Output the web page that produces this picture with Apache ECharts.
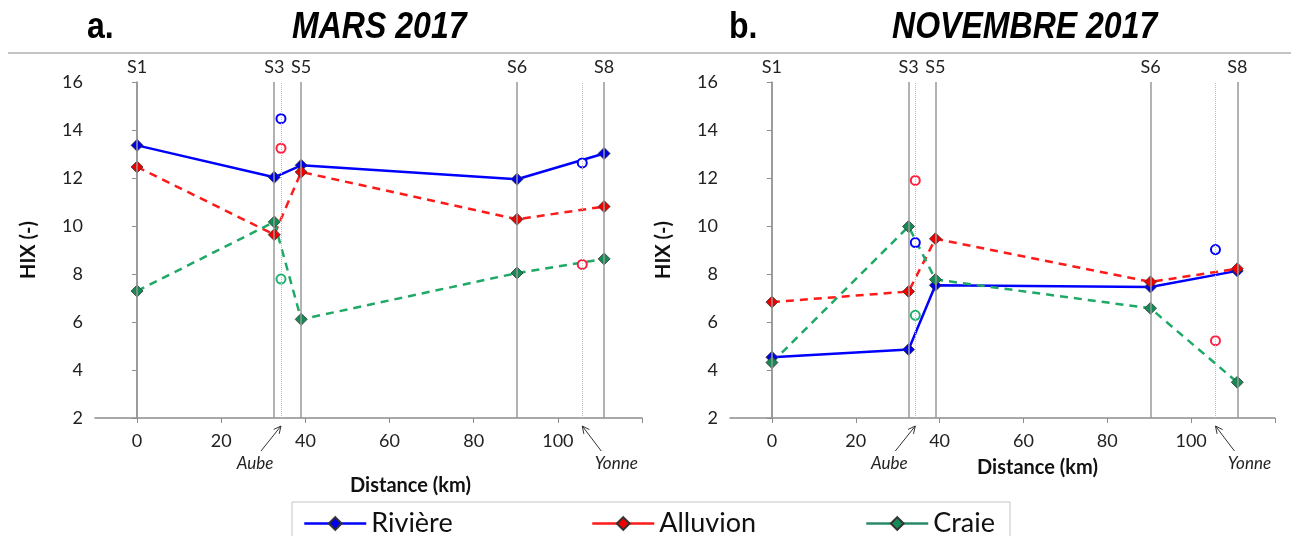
<!DOCTYPE html>
<html>
<head>
<meta charset="utf-8">
<script src="https://cdn.jsdelivr.net/npm/echarts@6/dist/echarts.min.js"></script>
<style>
  html, body { margin: 0; padding: 0; background: #fff; }
  #main { width: 1291px; height: 536px; }
</style>
</head>
<body>
<div id="main"></div>
<script>
// stations along the river (km) and tributary confluences
var stationNames = ['S1', 'S3', 'S5', 'S6', 'S8'];
var stationKm = [0, 32.6, 39, 90.3, 111];
var tribNames = ['Aube', 'Yonne'];
var tribKm = [34.2, 105.8];
var xLabels = [0, 20, 40, 60, 80, 100];

// HIX, March 2017
var marsRiviere = [13.36, 12.03, 12.53, 11.95, 13.02];
var marsAlluvion = [12.46, 9.64, 12.25, 10.28, 10.81];
var marsCraie = [7.29, 10.17, 6.11, 8.04, 8.63];
var marsTribRiviere = [14.47, 12.63];
var marsTribAlluvion = [13.24, 8.4];
var marsTribCraie = [7.79, null];

// HIX, November 2017
var novRiviere = [4.53, 4.85, 7.53, 7.46, 8.13];
var novAlluvion = [6.83, 7.27, 9.47, 7.67, 8.22];
var novCraie = [4.31, 9.98, 7.77, 6.57, 3.49];
var novTribRiviere = [9.31, 9.02];
var novTribAlluvion = [11.9, 5.22];
var novTribCraie = [6.28, null];

var FONT = 'Lato';
var BLUE = '#0000ff', RED = '#ff1a1a', GREEN = '#1fa866';

function pairs(xs, ys) {
    var out = [];
    for (var i = 0; i < xs.length; i++) {
        if (ys[i] != null) out.push([xs[i], ys[i]]);
    }
    return out;
}

var dom = document.getElementById('main');
var myChart = echarts.init(dom);

function xAxisFor(gi, gap, shift) {
    return {
        type: 'value', gridIndex: gi, min: -10, max: 120, interval: 10,
        name: 'Distance (km)', nameLocation: 'middle', nameGap: gap,
        nameTextStyle: {fontFamily: FONT, fontWeight: 'bold', fontSize: 20, color: '#111', padding: [0, 0, 0, shift]},
        axisLine: {lineStyle: {color: '#8c8c8c', width: 1.5}},
        axisTick: {show: true, length: 5, customValues: [0, 20, 40, 60, 80, 100, 120], lineStyle: {color: '#8c8c8c'}},
        axisLabel: {
            customValues: xLabels, fontFamily: FONT, fontSize: 18, color: '#222', margin: 14,
            formatter: function (v) { return xLabels.indexOf(v) >= 0 ? String(v) : ''; }
        },
        splitLine: {show: false}
    };
}

function yAxisFor(gi) {
    return {
        type: 'value', gridIndex: gi, min: 2, max: 16, interval: 2,
        name: 'HIX (-)', nameLocation: 'middle', nameGap: 56,
        nameTextStyle: {fontFamily: FONT, fontWeight: 'bold', fontSize: 20, color: '#111'},
        axisLine: {show: true, lineStyle: {color: '#8c8c8c', width: 1.5}},
        axisTick: {show: true, length: 5, lineStyle: {color: '#8c8c8c'}},
        axisLabel: {fontFamily: FONT, fontSize: 18, color: '#222', margin: 12},
        splitLine: {show: false}
    };
}

function guideSeries(gi) {
    var lines = [];
    stationKm.forEach(function (km, i) {
        lines.push({
            xAxis: km,
            lineStyle: {color: '#999', width: 1.5, type: 'solid'},
            label: {show: true, position: 'end', formatter: stationNames[i], distance: 6,
                    fontFamily: FONT, fontSize: 18, color: '#222'}
        });
    });
    tribKm.forEach(function (km) {
        lines.push({xAxis: km, lineStyle: {color: '#bdbdbd', width: 1, type: 'dotted'}, label: {show: false}});
    });
    return {
        type: 'scatter', xAxisIndex: gi, yAxisIndex: gi, data: [], z: 1, silent: true,
        markLine: {symbol: ['none', 'none'], silent: true, animation: false, data: lines}
    };
}

function lineSeries(gi, name, ys, color, marker, dashed) {
    return {
        name: name, type: 'line', xAxisIndex: gi, yAxisIndex: gi, z: 3,
        data: pairs(stationKm, ys),
        symbol: 'diamond', symbolSize: 12,
        lineStyle: {color: color, width: 2.5, type: dashed ? [8, 6] : 'solid'},
        itemStyle: {color: marker, borderColor: '#333', borderWidth: 0.8}
    };
}

function tribSeries(gi, name, ys, color) {
    return {
        name: name, type: 'scatter', xAxisIndex: gi, yAxisIndex: gi, z: 4,
        data: pairs(tribKm, ys),
        symbol: 'emptyCircle', symbolSize: 9,
        itemStyle: {color: color, borderColor: color, borderWidth: 2.5, opacity: 1}
    };
}

function legendFor(name, left, lineColor) {
    return {
        data: [name], left: left, top: 505, itemWidth: 62, itemHeight: 16, itemGap: 0,
        lineStyle: {type: 'solid', width: 2.5, color: lineColor},
        textStyle: {fontFamily: FONT, fontSize: 27, color: '#111'}, selectedMode: false
    };
}

option = {
    backgroundColor: '#fff',
    animation: false,
    legend: [legendFor('Rivière', 298, BLUE), legendFor('Alluvion', 586, RED), legendFor('Craie', 860, '#2a8a68')],
    grid: [
        {left: 95, right: 649, top: 82, bottom: 118},
        {left: 730, right: 16, top: 82, bottom: 118}
    ],
    xAxis: [xAxisFor(0, 58, 84), xAxisFor(1, 40, 70)],
    yAxis: [yAxisFor(0), yAxisFor(1)],
    series: [
        guideSeries(0),
        lineSeries(0, 'Rivière', marsRiviere, BLUE, '#0000e6', false),
        lineSeries(0, 'Alluvion', marsAlluvion, RED, '#ee0000', true),
        lineSeries(0, 'Craie', marsCraie, GREEN, '#168a55', true),
        tribSeries(0, 'Affluent Rivière', marsTribRiviere, BLUE),
        tribSeries(0, 'Affluent Alluvion', marsTribAlluvion, '#ff2040'),
        tribSeries(0, 'Affluent Craie', marsTribCraie, '#22b070'),
        guideSeries(1),
        lineSeries(1, 'Rivière', novRiviere, BLUE, '#0000e6', false),
        lineSeries(1, 'Alluvion', novAlluvion, RED, '#ee0000', true),
        lineSeries(1, 'Craie', novCraie, GREEN, '#168a55', true),
        tribSeries(1, 'Affluent Rivière', novTribRiviere, BLUE),
        tribSeries(1, 'Affluent Alluvion', novTribAlluvion, '#ff2040'),
        tribSeries(1, 'Affluent Craie', novTribCraie, '#22b070')
    ]
};
myChart.setOption(option);

// titles (condensed), separator line, legend frame and tributary annotations
function titleText(text, x, italic) {
    return {type: 'text', x: x, y: 28, scaleX: 0.89,
        style: {text: text, font: (italic ? 'italic ' : '') + 'bold 36px "Liberation Sans", Arial',
                fill: '#000', align: 'left', verticalAlign: 'middle'}};
}
var graphics = [
    titleText('a.', 87, false),
    titleText('MARS 2017', 292, true),
    titleText('b.', 729, false),
    titleText('NOVEMBRE 2017', 892, true),
    {type: 'line', shape: {x1: 8, y1: 53, x2: 1291, y2: 53}, style: {stroke: '#c4c4c4', lineWidth: 2}},
    {type: 'rect', shape: {x: 292, y: 502, width: 718, height: 40}, style: {fill: null, stroke: '#c4c4c4', lineWidth: 1}, z: -1}
];
[0, 1].forEach(function (gi) {
    tribKm.forEach(function (km, j) {
        var p = myChart.convertToPixel({gridIndex: gi}, [km, 2]);
        var tipX = p[0], tipY = p[1] + 8;
        var dx = j === 0 ? -20 : 19;
        var tx = tipX + dx, ty = tipY + 25;
        var ang = Math.atan2(tipY - ty, tipX - tx);
        var hl = 8, ha = 0.45;
        graphics.push({type: 'line', shape: {x1: tx, y1: ty, x2: tipX, y2: tipY}, style: {stroke: '#333', lineWidth: 1}});
        graphics.push({type: 'polyline', shape: {points: [
            [tipX - hl * Math.cos(ang - ha), tipY - hl * Math.sin(ang - ha)],
            [tipX, tipY],
            [tipX - hl * Math.cos(ang + ha), tipY - hl * Math.sin(ang + ha)]
        ]}, style: {stroke: '#333', lineWidth: 1, fill: null}});
        graphics.push({type: 'text', x: tipX + (j === 0 ? -26 : 34), y: tipY + 38,
            style: {text: tribNames[j], font: 'italic 17px Lato', fill: '#222', align: 'center', verticalAlign: 'middle'}});
    });
});
myChart.setOption({graphic: graphics});
</script>
</body>
</html>
